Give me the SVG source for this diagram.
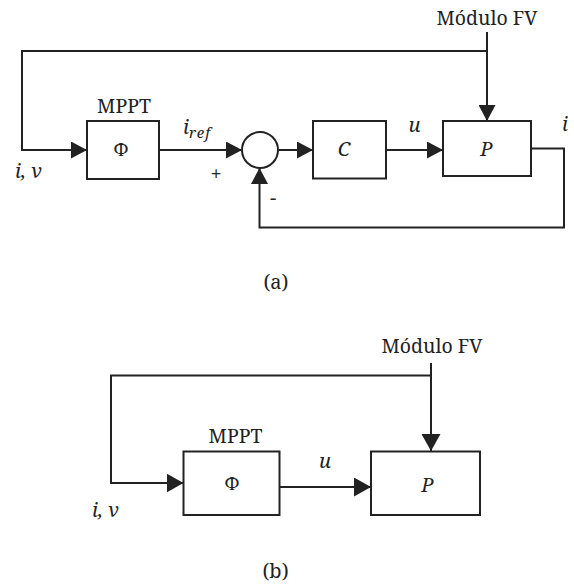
<svg xmlns="http://www.w3.org/2000/svg" width="574" height="585" viewBox="0 0 574 585">
<style>
.ln{fill:none;stroke:#222;stroke-width:2;stroke-linejoin:miter}
.bx{fill:#fff;stroke:#222;stroke-width:2}
.t{font-family:"Noto Serif","DejaVu Serif",serif;font-size:19.5px;fill:#222}
.m{font-family:"Noto Serif","DejaVu Serif",serif;font-style:italic;font-size:20px;fill:#222}
.c{text-anchor:middle}
</style>
<defs>
<marker id="ah" viewBox="0 0 16 17" refX="16" refY="8.5" markerWidth="16" markerHeight="17" markerUnits="userSpaceOnUse" orient="auto">
<path d="M0,0 L16,8.5 L0,17 z" fill="#222"/>
</marker>
<marker id="ahb" viewBox="0 0 17 19" refX="17" refY="9.5" markerWidth="17" markerHeight="19" markerUnits="userSpaceOnUse" orient="auto">
<path d="M0,0 L17,9.5 L0,19 z" fill="#222"/>
</marker>
</defs>

<g id="connectors">
<path class="ln" d="M487,51 H22 V150 H87" marker-end="url(#ah)"/>
<path class="ln" d="M487,32 V121" marker-end="url(#ah)"/>
<path class="ln" d="M159,150 H242" marker-end="url(#ah)"/>
<path class="ln" d="M278,150 H313" marker-end="url(#ah)"/>
<path class="ln" d="M386,150 H443" marker-end="url(#ah)"/>
<path class="ln" d="M531,148.5 H564 V227.5 H259.5 V168" marker-end="url(#ah)"/>
<path class="ln" d="M431,375.5 H111 V483 H183.5" marker-end="url(#ahb)"/>
<path class="ln" d="M431,363 V451" marker-end="url(#ahb)"/>
<path class="ln" d="M279.5,487 H371" marker-end="url(#ahb)"/>
</g>

<g id="a-mppt">
<rect class="bx" x="87" y="121" width="72" height="58"/>
<text class="t c" x="124" y="113">MPPT</text>
<text class="t c" x="121" y="156" style="font-size:18px">Φ</text>
</g>
<g id="a-sum">
<circle cx="260" cy="150" r="18" fill="#fff" stroke="#222" stroke-width="2"/>
</g>
<g id="a-c">
<rect class="bx" x="313" y="121" width="73" height="57.5"/>
<text class="m c" x="344" y="156">C</text>
</g>
<g id="a-p">
<rect class="bx" x="443" y="121" width="88" height="55"/>
<text class="m c" x="486.5" y="156">P</text>
</g>
<g id="a-labels">
<text class="t c" x="487" y="25">Módulo FV</text>
<text class="m" x="15" y="178">i, v</text>
<text class="m" x="183" y="134">i<tspan style="font-size:15px" dy="4" letter-spacing="1">ref</tspan></text>
<text class="t c" x="216" y="181" style="font-size:20px">+</text>
<text class="t c" x="273" y="205" style="font-size:20px">-</text>
<text class="m c" x="414.5" y="131.5">u</text>
<text class="m" x="562" y="130.5">i</text>
<text class="t c" x="276" y="289" style="font-size:20px">(a)</text>
</g>

<g id="b-mppt">
<rect class="bx" x="183.5" y="451.5" width="96" height="63.5"/>
<text class="t c" x="235.5" y="443">MPPT</text>
<text class="t c" x="232" y="490" style="font-size:18px">Φ</text>
</g>
<g id="b-p">
<rect class="bx" x="371" y="451.5" width="109" height="63.5"/>
<text class="m c" x="427.5" y="492">P</text>
</g>
<g id="b-labels">
<text class="t c" x="432" y="353">Módulo FV</text>
<text class="m" x="92" y="517">i, v</text>
<text class="m c" x="325" y="468">u</text>
<text class="t c" x="275.5" y="578" style="font-size:20px">(b)</text>
</g>
</svg>
